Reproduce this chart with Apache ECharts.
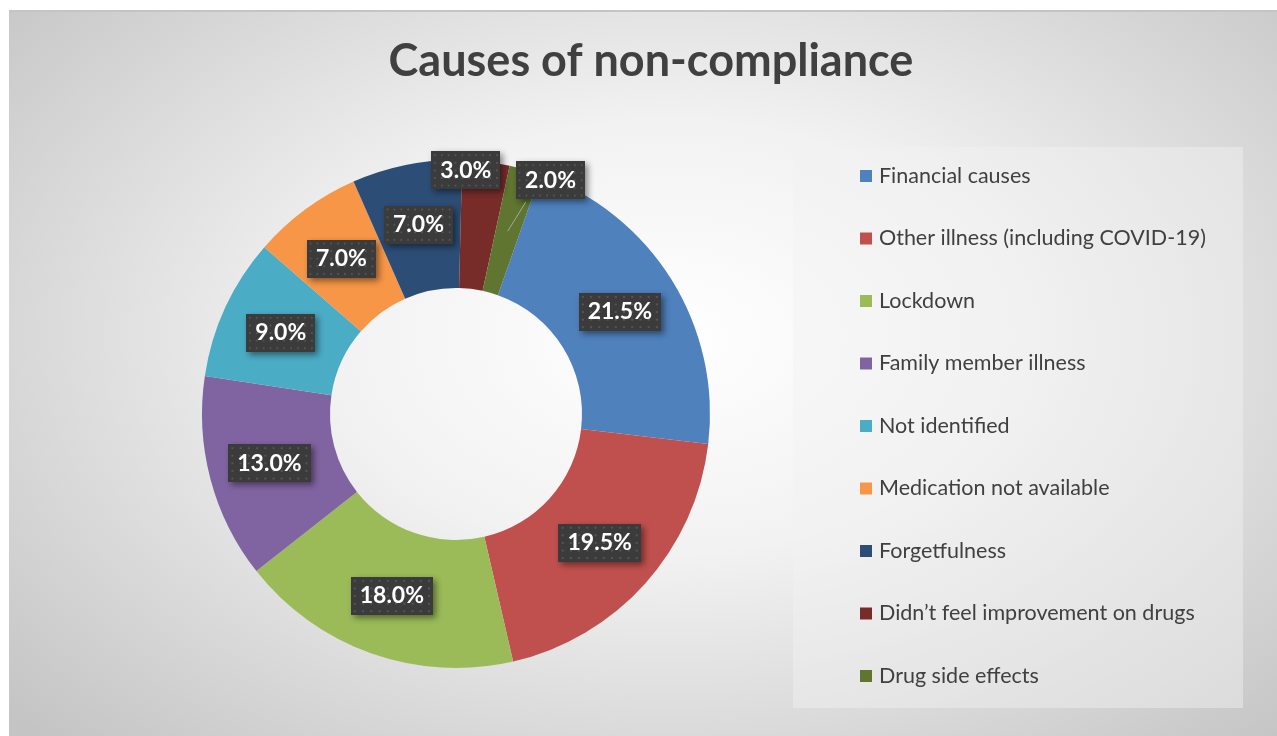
<!DOCTYPE html>
<html>
<head>
<meta charset="utf-8">
<title>Causes of non-compliance</title>
<script src="https://cdn.jsdelivr.net/npm/echarts@6/dist/echarts.min.js"></script>
<style>
  html, body { margin: 0; padding: 0; background: #fff; }
  #frame {
    position: absolute; left: 9px; top: 10px; width: 1268px; height: 726px;
    box-sizing: border-box; border-top: 2px solid #c4c4c4;
    background: radial-gradient(ellipse 70% 78% at 52% 45%, #ffffff 0%, #f2f2f2 38%, #c4c4c4 100%);
  }
  #chart { position: absolute; left: 0; top: 0; width: 1277px; height: 736px; }
</style>
</head>
<body>
<div id="frame"></div>
<div id="chart"></div>
<script>
  const categories = [
    'Financial causes',
    'Other illness (including COVID-19)',
    'Lockdown',
    'Family member illness',
    'Not identified',
    'Medication not available',
    'Forgetfulness',
    'Didn\u2019t feel improvement on drugs',
    'Drug side effects',
  ];
  const shares = [21.5, 19.5, 18.0, 13.0, 9.0, 7.0, 7.0, 3.0, 2.0];
  const sliceColors = ['#4f81bd', '#c0504d', '#9bbb59', '#8064a2', '#4bacc6', '#f79646', '#2c4d75', '#772c2a', '#5f7530'];

  // layout constants
  const center = [456, 414];
  const radius = [126, 254];
  const firstSliceDeg = 19.4; // clockwise from 12 o'clock
  const labelShift = { 7: [-13, -52], 8: [42, -48] };

  // dotted dark box behind the data labels
  const makeDots = () => {
    const c = document.createElement('canvas');
    c.width = 80;
    c.height = 40;
    const ctx = c.getContext('2d');
    ctx.fillStyle = '#3b3b3b';
    ctx.fillRect(0, 0, 80, 40);
    ctx.fillStyle = '#555555';
    for (let x = 3; x < 80; x += 8) {
      for (let y = 3; y < 40; y += 8) {
        ctx.fillRect(x, y, 2, 2);
      }
    }
    return c;
  };
  const dots = makeDots();

  // leader line for the small 2.0% slice, from the slice's middle to the moved label
  const leader = () => {
    const idx = 8;
    const before = shares.slice(0, idx).reduce((a, b) => a + b, 0);
    const total = shares.reduce((a, b) => a + b, 0);
    const mid = ((firstSliceDeg + (360 * (before + shares[idx] / 2)) / total) * Math.PI) / 180;
    const r = (radius[0] + radius[1]) / 2;
    const x1 = center[0] + r * Math.sin(mid);
    const y1 = center[1] - r * Math.cos(mid);
    const x2 = x1 + labelShift[idx][0] - 24;
    const y2 = y1 + labelShift[idx][1] + 19;
    return { x1, y1, x2, y2 };
  };

  const chart = echarts.init(document.getElementById('chart'));

  const option = {
    backgroundColor: 'transparent',
    animation: false,
    title: {
      text: 'Causes of non-compliance',
      left: 646,
      textAlign: 'center',
      top: 34,
      textStyle: {
        fontFamily: 'Lato',
        fontWeight: 'bold',
        fontSize: 45,
        color: '#404040',
      },
    },
    legend: {
      orient: 'vertical',
      left: 860,
      top: 164,
      padding: 0,
      icon: 'rect',
      itemWidth: 12,
      itemHeight: 12,
      itemGap: 38.5,
      data: categories,
      textStyle: {
        fontFamily: 'Lato',
        fontSize: 21.5,
        lineHeight: 24,
        color: '#404040',
        padding: [0, 0, 0, 2],
      },
    },
    graphic: [
      {
        type: 'rect',
        left: 793,
        top: 147,
        z: -10,
        shape: { width: 450, height: 561 },
        style: { fill: 'rgba(242,242,242,0.45)' },
      },
      {
        type: 'line',
        z: 5,
        shape: leader(),
        style: { stroke: '#a6a6a6', lineWidth: 1 },
      },
    ],
    series: [
      {
        type: 'pie',
        center: center,
        radius: radius,
        startAngle: 90 - firstSliceDeg,
        clockwise: true,
        avoidLabelOverlap: false,
        data: categories.map((name, i) => ({
          name,
          value: shares[i],
          itemStyle: { color: sliceColors[i] },
        })),
        label: {
          show: true,
          position: 'inside',
          formatter: (p) => p.value.toFixed(1) + '%',
          fontFamily: 'Lato',
          fontWeight: 'bold',
          fontSize: 23,
          color: '#ffffff',
          backgroundColor: { image: dots },
          padding: [8, 9, 7, 9],
          shadowColor: 'rgba(0,0,0,0.45)',
          shadowBlur: 6,
          shadowOffsetX: 3,
          shadowOffsetY: 3,
        },
        labelLine: { show: false },
        labelLayout: (p) => {
          const s = labelShift[p.dataIndex];
          return s ? { dx: s[0], dy: s[1] } : {};
        },
        emphasis: { disabled: true },
      },
    ],
  };

  chart.setOption(option);
</script>
</body>
</html>
